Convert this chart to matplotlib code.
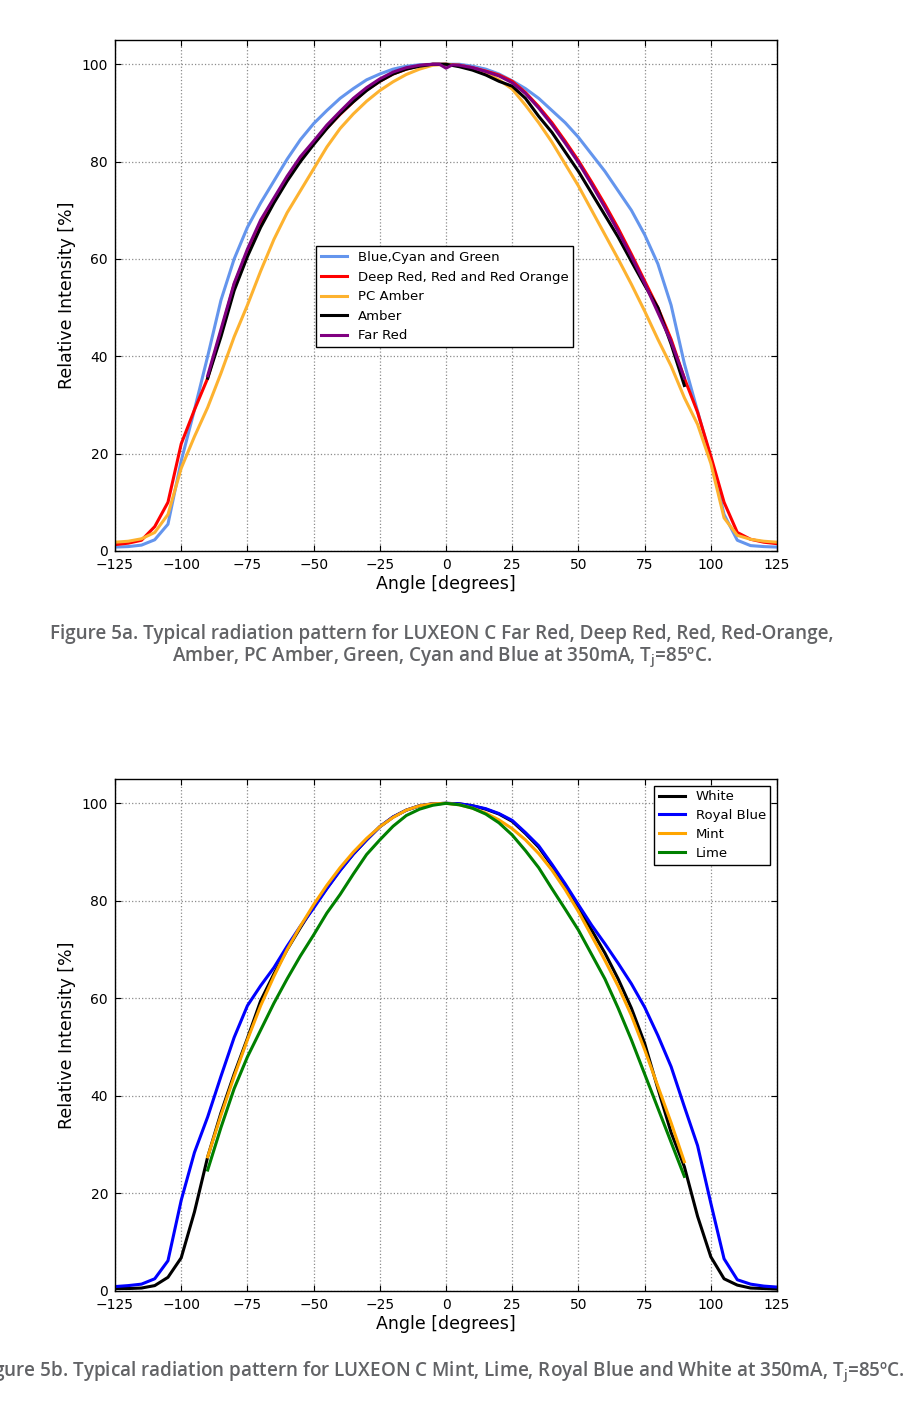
#!/usr/bin/env python3
"""LUXEON C radiation patterns (Figure 5a / 5b)."""

import matplotlib
matplotlib.use("Agg")
import matplotlib.pyplot as plt

# ---- data -------------------------------------------------------------
ANGLE_FULL = list(range(-125, 130, 5))
ANGLE_PART = list(range(-90, 95, 5))
ANGLE_FAR_RED = [-90, -85, -80, -75, -70, -65, -60, -55, -50, -45, -40, -35,
                 -30, -25, -20, -15, -10, -5, -2.5, 0, 2.5, 5, 10, 15, 20, 25,
                 30, 35, 40, 45, 50, 55, 60, 65, 70, 75, 80, 85, 90]

# Figure 5a
blue_cyan_green = [0.8, 0.9, 1.2, 2.3, 5.5, 18.5, 29, 40, 51.5, 60, 66.5, 71.5,
                   76, 80.5, 84.5, 87.8, 90.5, 93, 95, 96.8, 98, 99, 99.6, 99.9,
                   100, 100, 100, 99.6, 99, 98, 96.6, 95, 93, 90.5, 88, 85, 81.5,
                   78, 74, 70, 65, 59, 50.5, 38.5, 28.7, 19, 7.5, 2.2, 1.1, 0.9, 0.8]
deep_red = [1.3, 1.6, 2.2, 5, 10, 22, 29, 35.5, 45, 54.8, 61.5, 67.5, 72, 76.5,
            80.5, 83.8, 86.9, 89.7, 92.3, 94.7, 96.5, 98, 99, 99.7, 100, 100,
            99.8, 99.3, 98.6, 97.8, 96.5, 94.2, 91.3, 88, 84.2, 80.2, 75.8, 71.2,
            66.3, 61, 55.5, 50, 43.5, 35.5, 28.5, 19.5, 10, 3.8, 2.4, 1.8, 1.5]
pc_amber = [1.8, 2, 2.5, 3.8, 7.5, 17, 23.5, 29.5, 36.5, 44, 50.5, 57.5, 64,
            69.5, 74, 78.5, 83, 86.8, 89.8, 92.4, 94.6, 96.4, 97.9, 99, 99.8,
            100, 99.8, 99.2, 98.2, 96.8, 94.9, 91.6, 88, 84, 79.5, 75, 70, 65,
            60, 54.8, 49.3, 43.5, 38, 31.5, 26, 18, 6.8, 3.2, 2.4, 2, 1.8]
amber = [35.5, 44, 53.5, 60.5, 66.5, 71.5, 76, 80, 83.5, 86.8, 89.8, 92.3, 94.6,
         96.5, 98, 99, 99.6, 100, 100, 99.5, 98.8, 97.8, 96.5, 95.5, 93, 89.3,
         86, 82, 78, 73.5, 69, 64.5, 59.5, 54.6, 50, 42.5, 34]
far_red = [36, 45.5, 55, 62, 68, 72.5, 77, 81, 84.2, 87.5, 90.3, 93, 95.2, 97,
           98.4, 99.3, 99.8, 100, 100, 99.2, 99.9, 99.8, 99.3, 98.5, 97.6, 96.2,
           94, 91, 87.6, 83.8, 79.8, 75.3, 70.6, 65.7, 60.5, 55, 49, 43, 35.5]

# Figure 5b
white = [0.5, 0.5, 0.6, 1.1, 2.8, 6.8, 16.2, 27.5, 36.5, 44.5, 51.8, 59.5, 65,
         70, 74.5, 78.8, 82.6, 86.3, 89.6, 92.5, 95.2, 97.2, 98.6, 99.5, 99.9,
         100, 99.9, 99.5, 98.8, 97.8, 96.3, 93.8, 91, 87.2, 83, 78.6, 74, 69.3,
         64, 58, 50.8, 41.5, 32.5, 25.5, 15.3, 7, 2.5, 1.2, 0.6, 0.5, 0.4]
royal_blue = [0.9, 1.1, 1.4, 2.5, 6.2, 18.6, 28.4, 35.7, 44, 52, 58.5, 62.6,
              66.3, 70.7, 74.8, 78.5, 82.5, 86.2, 89.6, 92.5, 95.2, 97.2, 98.6,
              99.5, 99.9, 100, 99.9, 99.5, 98.9, 97.9, 96.5, 94, 91.3, 87.5, 83.5,
              79.2, 75, 71.2, 67.2, 63, 58.2, 52.4, 46, 37.8, 29.8, 18, 6.6, 2.3,
              1.4, 1, 0.8]
mint = [27.5, 36, 44, 51.5, 58.5, 64.5, 70, 74.8, 79.2, 83.2, 86.8, 90, 92.8,
        95.2, 97.1, 98.6, 99.5, 99.9, 100, 99.7, 99, 98, 96.6, 94.8, 92.5, 89.7,
        86.3, 82.3, 77.8, 72.8, 67.8, 62.5, 56.5, 49.5, 42, 34.5, 26.5]
lime = [24.8, 33.5, 41.5, 48, 53.5, 59, 64, 68.7, 73, 77.5, 81.3, 85.5, 89.5,
        92.5, 95.3, 97.5, 98.8, 99.6, 100, 99.7, 99, 97.8, 96, 93.5, 90.3, 86.8,
        82.5, 78.3, 74, 69, 64, 58, 51.5, 44.5, 37.5, 30.5, 23.5]

X_TICKS = [-125, -100, -75, -50, -25, 0, 25, 50, 75, 100, 125]
Y_TICKS = [0, 20, 40, 60, 80, 100]

CAPTION_A1 = "Figure 5a. Typical radiation pattern for LUXEON C Far Red, Deep Red, Red, Red-Orange,"
CAPTION_A2 = r"Amber, PC Amber, Green, Cyan and Blue at 350mA, T$_\mathregular{j}$=85ºC."
CAPTION_B = r"Figure 5b. Typical radiation pattern for LUXEON C Mint, Lime, Royal Blue and White at 350mA, T$_\mathregular{j}$=85ºC."

LW = 2.2
CAPTION_COLOR = "#626366"


def style_axes(ax):
    ax.set_xlim(-125, 125)
    ax.set_ylim(0, 105)
    ax.set_xticks(X_TICKS)
    ax.set_yticks(Y_TICKS)
    ax.tick_params(direction="in", top=True, right=True, length=4,
                   labelsize=10, pad=5)
    ax.grid(True, color="0.55", linestyle=":", linewidth=0.9)
    ax.set_xlabel("Angle [degrees]", fontsize=12.5, labelpad=2)
    ax.set_ylabel("Relative Intensity [%]", fontsize=12.5, labelpad=4)
    for sp in ax.spines.values():
        sp.set_linewidth(1.0)


def main():
    plt.rcParams["mathtext.fontset"] = "custom"
    plt.rcParams["mathtext.rm"] = "Open Sans:semibold"

    fig = plt.figure(figsize=(9.2, 14.16), dpi=100)

    # --- Figure 5a ---
    ax1 = fig.add_axes([0.125, 0.6109, 0.7196, 0.3609])
    ax1.plot(ANGLE_FULL, blue_cyan_green, color="#6495ED", lw=LW, label="Blue,Cyan and Green")
    ax1.plot(ANGLE_FULL, deep_red, color="#FF0000", lw=LW, label="Deep Red, Red and Red Orange")
    ax1.plot(ANGLE_FULL, pc_amber, color="#FDB22F", lw=LW, label="PC Amber")
    ax1.plot(ANGLE_PART, amber, color="black", lw=LW, label="Amber")
    ax1.plot(ANGLE_FAR_RED, far_red, color="#800080", lw=LW, label="Far Red")
    style_axes(ax1)
    leg = ax1.legend(loc="upper left", bbox_to_anchor=(0.294, 0.609), fontsize=9.5,
                     fancybox=False, framealpha=1, edgecolor="black",
                     handlelength=2.0, borderpad=0.35, labelspacing=0.5)
    leg.get_frame().set_linewidth(1.0)

    # --- Figure 5b ---
    ax2 = fig.add_axes([0.125, 0.0883, 0.7196, 0.3616])
    ax2.plot(ANGLE_FULL, white, color="black", lw=LW, label="White")
    ax2.plot(ANGLE_FULL, royal_blue, color="#0000FF", lw=LW, label="Royal Blue")
    ax2.plot(ANGLE_PART, mint, color="#FFA500", lw=LW, label="Mint")
    ax2.plot(ANGLE_PART, lime, color="#008000", lw=LW, label="Lime")
    style_axes(ax2)
    leg = ax2.legend(loc="upper right", fontsize=9.5, fancybox=False, framealpha=1,
                     edgecolor="black", handlelength=2.0, borderpad=0.35,
                     labelspacing=0.45, borderaxespad=0.5)
    leg.get_frame().set_linewidth(1.0)

    # captions
    cap = dict(ha="center", va="center", fontsize=13.6, color=CAPTION_COLOR,
               family="Open Sans", weight="semibold")
    fig.text(0.48, 1 - 634 / 1416, CAPTION_A1, **cap)
    fig.text(0.48, 1 - 657 / 1416, CAPTION_A2, **cap)
    fig.text(0.48, 1 - 1372 / 1416, CAPTION_B, **cap)

    fig.savefig("out.png", dpi=100, facecolor="white")
    plt.close(fig)


if __name__ == "__main__":
    main()
